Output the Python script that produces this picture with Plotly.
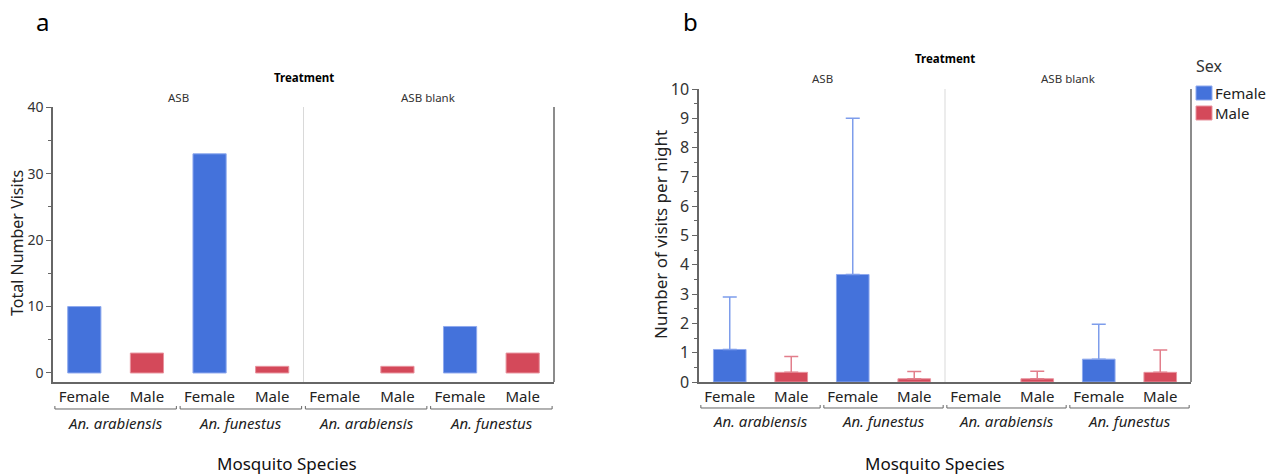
import plotly.graph_objects as go

W, H = 1266, 474
FONT = "Noto Sans"

# ---------------- data ----------------
treatments = ["ASB", "ASB blank"]
species = ["An. arabiensis", "An. arabiensis", "An. funestus", "An. funestus"]
sexes = ["Female", "Male", "Female", "Male"]

# panel a: total number of visits
total_asb = [10, 3, 33, 1]
total_blank = [0, 1, 7, 3]

# panel b: mean visits per night and upper error limit
mean_asb = [1.11, 0.33, 3.67, 0.11]
mean_blank = [0.0, 0.11, 0.78, 0.33]
upper_asb = [2.9, 0.87, 9.0, 0.36]
upper_blank = [None, 0.37, 1.97, 1.09]

yticks_a = [0, 10, 20, 30, 40]
yticks_b = list(range(0, 11))

# ---------------- styles ----------------
FILL = {"Female": "#4472DB", "Male": "#D4495A"}
EDGE = {"Female": "#8EA9EE", "Male": "#E8939E"}
ERR = {"Female": "#7E9DEB", "Male": "#E27E8B"}
AXC = "#666666"

def px_x(p):
    return p / W

def px_y(p):
    return 1 - p / H

A_L, A_R, A_T, A_B = 53, 554, 107, 382
B_L, B_R, B_T, B_B = 699, 1191, 89, 382

keys = [f"{t} | {sp} | {sx}" for t in treatments for sp, sx in zip(species, sexes)]
key_sex = sexes * len(treatments)

fig = go.Figure()

def add_bars(xa, ya, vals, upper=None):
    for sx in ["Female", "Male"]:
        # zero-height bars are drawn as nothing (as in the reference)
        y = [v if (s == sx and v != 0) else None for v, s in zip(vals, key_sex)]
        kw = {}
        if upper is not None:
            err = [(u - v) if (s == sx and u is not None and v != 0) else None
                   for v, u, s in zip(vals, upper, key_sex)]
            kw["error_y"] = dict(type="data", symmetric=False, array=err,
                                 arrayminus=[0] * len(err), color=ERR[sx],
                                 thickness=1.5, width=7)
        fig.add_trace(go.Bar(x=keys, y=y, xaxis=xa, yaxis=ya, width=0.53,
                             marker=dict(color=FILL[sx], line=dict(color=EDGE[sx], width=1)),
                             showlegend=False, name=sx, **kw))

add_bars("x", "y", total_asb + total_blank)
add_bars("x2", "y2", mean_asb + mean_blank, upper_asb + upper_blank)

def xax(l, r, anchor):
    return dict(type="category", domain=[px_x(l), px_x(r)], anchor=anchor,
                categoryorder="array", categoryarray=keys,
                tickvals=keys, ticktext=key_sex,
                showline=True, linecolor=AXC, linewidth=1.5, ticks="",
                showgrid=False, automargin=False, ticklabelstandoff=0,
                tickfont=dict(family=FONT, size=15, color="#222222"))

def yax(b, t, anchor, rng, tv, dminor, fs):
    return dict(domain=[px_y(b), px_y(t)], anchor=anchor, range=rng, automargin=False,
                tickvals=tv, ticks="outside", ticklen=5, tickcolor=AXC, tickwidth=1,
                minor=dict(dtick=dminor, ticks="outside", ticklen=3, tickcolor=AXC),
                showline=True, linecolor=AXC, linewidth=1.5, showgrid=False,
                zeroline=False, tickfont=dict(family=FONT, size=fs, color="#333333"))

shapes = []
annotations = []

def text(x, y, s, size, color="#222222", bold=False, xanchor="center", angle=0):
    annotations.append(dict(xref="paper", yref="paper", x=px_x(x), y=px_y(y),
                            text=("<b>%s</b>" % s) if bold else s, showarrow=False,
                            xanchor=xanchor, yanchor="middle", textangle=angle,
                            font=dict(family=FONT, size=size, color=color)))

# species brackets, species labels, treatment divider and right frame for each panel
for xa, ya, by, sy in [("x", "y", 409, 423), ("x2", "y2", 408, 421)]:
    ngroups = len(keys) // 2
    for g in range(ngroups):
        c0, c1 = 2 * g - 0.47, 2 * g + 1.47
        shapes.append(dict(type="path", xref=xa, yref="paper",
                           path="M %f,%f L %f,%f L %f,%f L %f,%f" % (
                               c0, px_y(by - 3), c0, px_y(by),
                               c1, px_y(by), c1, px_y(by - 3)),
                           line=dict(color=AXC, width=1)))
        annotations.append(dict(xref=xa, yref="paper", x=2 * g + 0.5, y=px_y(sy),
                                text="<i>%s</i>" % species[(2 * g) % 4], showarrow=False,
                                xanchor="center", yanchor="middle",
                                font=dict(family=FONT, size=15, color="#222222")))
    shapes.append(dict(type="line", xref=xa, yref=ya + " domain",
                       x0=3.5, x1=3.5, y0=0, y1=1, line=dict(color="#D9D9D9", width=1)))
    shapes.append(dict(type="line", xref=xa + " domain", yref=ya + " domain",
                       x0=1, x1=1, y0=0, y1=1, line=dict(color=AXC, width=1.5)))

A_MID = (A_L + A_R) / 2
B_MID = (B_L + B_R) / 2
text(42, 22, "a", 24, "#000000")
text(690, 22, "b", 24, "#000000")
text(A_MID, 77, "Treatment", 11.5, "#000000", bold=True)
text(B_MID, 58, "Treatment", 11.5, "#000000", bold=True)
text((A_L + A_MID) / 2, 97, treatments[0], 11.5, "#333333")
text((A_MID + A_R) / 2, 97, treatments[1], 11.5, "#333333")
text((B_L + B_MID) / 2, 79, treatments[0], 11.5, "#333333")
text((B_MID + B_R) / 2, 79, treatments[1], 11.5, "#333333")
text(17, 243, "Total Number Visits", 16, "#222222", angle=-90)
text(660, 235, "Number of visits per night", 17, "#222222", angle=-90)
text(287, 463, "Mosquito Species", 17, "#111111")
text(935, 463, "Mosquito Species", 17, "#111111")

# legend
text(1194, 66, "Sex", 16, "#333333", xanchor="left")
for i, sx in enumerate(["Female", "Male"]):
    y0 = 86 + i * 20
    shapes.append(dict(type="rect", xref="paper", yref="paper",
                       x0=px_x(1196), x1=px_x(1212), y0=px_y(y0 + 14), y1=px_y(y0),
                       fillcolor=FILL[sx], line=dict(color=EDGE[sx], width=1)))
    text(1213, y0 + 7, sx, 15, "#222222", xanchor="left")

fig.update_layout(
    width=W, height=H, margin=dict(l=0, r=0, t=0, b=0, pad=0, autoexpand=False),
    paper_bgcolor="white", plot_bgcolor="white", barmode="overlay",
    font=dict(family=FONT),
    xaxis=xax(A_L, A_R, "y"),
    xaxis2=xax(B_L, B_R, "y2"),
    yaxis=yax(A_B, A_T, "x", [-1.36, 40.05], yticks_a, 5, 14),
    yaxis2=yax(B_B, B_T, "x2", [0, 10], yticks_b, 0.5, 16),
    shapes=shapes, annotations=annotations,
)

fig.write_html("out.html", config={"displayModeBar": False},
               post_script="document.body.style.margin='0';document.body.style.overflow='hidden';")
